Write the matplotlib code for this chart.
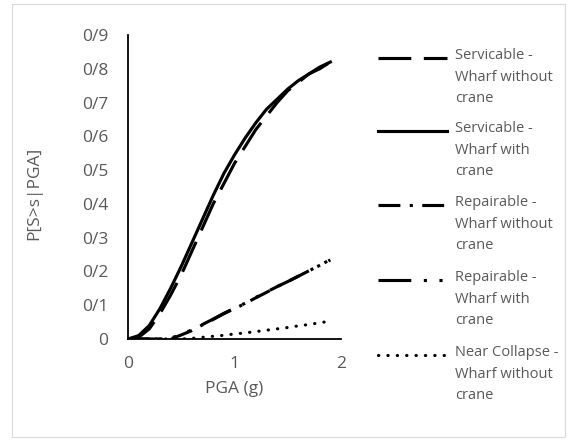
import matplotlib.pyplot as plt
import matplotlib.patches as patches
from matplotlib.lines import Line2D
from matplotlib.ticker import FuncFormatter

plt.rcParams['font.family'] = ['Open Sans', 'DejaVu Sans']

pga = [0.0, 0.1, 0.2, 0.3, 0.4, 0.5, 0.6, 0.7, 0.8, 0.9,
       1.0, 1.1, 1.2, 1.3, 1.4, 1.5, 1.6, 1.7, 1.8, 1.9]

serv_no_crane = [0.0, 0.005, 0.03, 0.075, 0.13, 0.19, 0.26, 0.33, 0.40, 0.46,
                 0.52, 0.57, 0.62, 0.66, 0.70, 0.735, 0.76, 0.785, 0.80, 0.82]
serv_crane = [0.0, 0.01, 0.04, 0.09, 0.15, 0.215, 0.285, 0.355, 0.425, 0.49,
              0.545, 0.595, 0.64, 0.68, 0.71, 0.74, 0.765, 0.785, 0.805, 0.82]
rep_no_crane = [0.0, 0.0, 0.0, 0.0, 0.0, 0.012, 0.025, 0.042, 0.058, 0.075,
                0.09, 0.105, 0.122, 0.138, 0.155, 0.17, 0.186, 0.202, 0.218, 0.234]
rep_crane = [0.0, 0.0, 0.0, 0.0, 0.002, 0.014, 0.027, 0.043, 0.059, 0.076,
             0.091, 0.106, 0.123, 0.139, 0.155, 0.17, 0.186, 0.202, 0.218, 0.235]
near_collapse = [0.0, 0.0, 0.0, 0.0, 0.0, 0.0, 0.002, 0.005, 0.008, 0.011,
                 0.015, 0.018, 0.022, 0.026, 0.030, 0.034, 0.039, 0.043, 0.048, 0.053]

labels = ['Servicable -\nWharf without\ncrane',
          'Servicable -\nWharf with\ncrane',
          'Repairable -\nWharf without\ncrane',
          'Repairable -\nWharf with\ncrane',
          'Near Collapse -\nWharf without\ncrane']

styles = [(0, (10.5, 4)),
          '-',
          (0, (7, 3, 1, 3)),
          (0, (10.5, 4, 1, 4, 1, 4)),
          (0, (0.1, 2.9))]
series = [serv_no_crane, serv_crane, rep_no_crane, rep_crane, near_collapse]

gray = '#595959'
lw = 2.25

fig = plt.figure(figsize=(5.7, 4.41), dpi=100)
fig.add_artist(patches.Rectangle((12 / 570, 4 / 441), 553 / 570, 433 / 441,
                                 transform=fig.transFigure, fill=False,
                                 edgecolor='#D9D9D9', linewidth=0.8))

ax = fig.add_axes([128 / 570, 102 / 441, 213 / 570, 304 / 441])
for ys, ls in zip(series, styles):
    cap = 'round' if ls == (0, (0.1, 2.9)) else 'butt'
    ax.plot(pga, ys, color='black', linewidth=lw, linestyle=ls,
            dash_capstyle=cap)

ax.set_xlim(0, 2)
ax.set_ylim(0, 0.9)
ax.set_xticks([0, 1, 2])
ax.set_yticks([i / 10 for i in range(10)])
ax.yaxis.set_major_formatter(FuncFormatter(
    lambda v, p: '0' if round(v * 10) == 0 else f'0/{round(v * 10)}'))
ax.tick_params(length=0, labelsize=12.5, labelcolor=gray)
ax.tick_params(axis='y', pad=14)
ax.tick_params(axis='x', pad=12)
for s in ['top', 'right']:
    ax.spines[s].set_visible(False)
for s in ['left', 'bottom']:
    ax.spines[s].set_linewidth(1.3)
    ax.spines[s].set_color('black')
ax.set_xlabel('PGA (g)', fontsize=12.5, color=gray, labelpad=7)
ax.set_ylabel('P[S>s|PGA]', fontsize=12.5, color=gray, labelpad=8)
ax.yaxis.set_label_coords(-86 / 213, 0.48)

# legend drawn by hand so each handle sits level with the first text line
entry_y = [58, 131, 205, 280, 355]
for y, ls, lab in zip(entry_y, styles, labels):
    cap = 'round' if ls == (0, (0.1, 2.9)) else 'butt'
    fy = 1 - y / 441
    fig.add_artist(Line2D([378 / 570, 447 / 570], [fy, fy],
                          transform=fig.transFigure, color='black',
                          linewidth=lw, linestyle=ls, dash_capstyle=cap))
    fig.text(455 / 570, fy + 10 / 441, lab, fontsize=10.5, color=gray,
             va='top', ha='left', linespacing=1.6)

plt.savefig('out.png', dpi=100, facecolor='white')
plt.close()
